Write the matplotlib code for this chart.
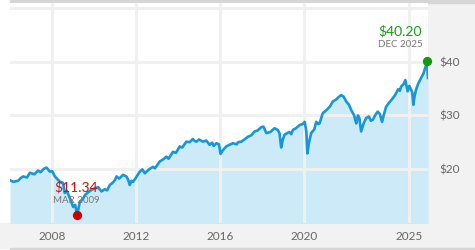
from matplotlib import pyplot as plt
from matplotlib.patches import Rectangle

# price (decimal year, $)
years = [2005.99, 2006.15, 2006.38, 2006.50, 2006.62, 2006.80, 2006.94, 2007.15,
         2007.33, 2007.45, 2007.60, 2007.73, 2007.89, 2008.00, 2008.13, 2008.25,
         2008.37, 2008.52, 2008.60, 2008.70, 2008.84, 2008.92, 2009.00, 2009.10,
         2009.19, 2009.32, 2009.45, 2009.56, 2009.70, 2009.88, 2010.05, 2010.19,
         2010.35, 2010.51, 2010.62, 2010.75, 2010.88, 2010.99, 2011.07, 2011.20,
         2011.38, 2011.54, 2011.62, 2011.70, 2011.78, 2011.86, 2012.00, 2012.18,
         2012.30, 2012.42, 2012.50, 2012.65, 2012.81, 2012.90, 2013.13, 2013.30,
         2013.45, 2013.55, 2013.76, 2013.90, 2014.08, 2014.20, 2014.40, 2014.55,
         2014.71, 2014.80, 2014.88, 2015.00, 2015.19, 2015.35, 2015.51, 2015.63,
         2015.70, 2015.83, 2015.95, 2016.03, 2016.12, 2016.30, 2016.45, 2016.62,
         2016.80, 2016.87, 2017.02, 2017.20, 2017.33, 2017.50, 2017.65, 2017.80,
         2017.97, 2018.08, 2018.21, 2018.40, 2018.60, 2018.75, 2018.84, 2018.92,
         2019.00, 2019.08, 2019.30, 2019.40, 2019.48, 2019.62, 2019.80, 2019.95,
         2020.04, 2020.12, 2020.17, 2020.25, 2020.35, 2020.50, 2020.59, 2020.68,
         2020.75, 2020.90, 2021.08, 2021.25, 2021.38, 2021.55, 2021.65, 2021.78,
         2021.90, 2022.02, 2022.15, 2022.26, 2022.40, 2022.45, 2022.50, 2022.58,
         2022.65, 2022.73, 2022.85, 2022.97, 2023.10, 2023.20, 2023.29, 2023.40,
         2023.52, 2023.62, 2023.73, 2023.82, 2023.92, 2024.05, 2024.24, 2024.35,
         2024.50, 2024.58, 2024.64, 2024.75, 2024.84, 2024.95, 2025.03, 2025.11,
         2025.17, 2025.22, 2025.28, 2025.35, 2025.45, 2025.59, 2025.70, 2025.83,
         2025.88, 2025.92]
prices = [17.9, 17.6, 17.8, 18.3, 18.6, 18.4, 19.3, 19.0,
          19.7, 19.4, 20.0, 20.25, 19.5, 19.6, 18.6, 18.1,
          17.6, 17.4, 15.5, 15.9, 14.6, 13.8, 12.9, 13.3,
          11.34, 13.9, 14.3, 15.1, 15.6, 16.1, 16.4, 16.6,
          15.8, 16.2, 16.0, 17.0, 17.4, 17.9, 18.6, 18.2,
          18.9, 18.6, 18.0, 17.0, 17.8, 17.6, 18.4, 19.5,
          19.9, 19.2, 19.5, 20.0, 20.4, 20.1, 21.4, 21.8,
          22.3, 21.9, 23.2, 23.0, 24.2, 24.0, 25.1, 25.0,
          25.6, 25.2, 25.1, 25.5, 25.1, 25.3, 24.5, 24.9,
          24.3, 24.8, 24.6, 22.8, 23.4, 24.2, 24.5, 24.8,
          24.6, 25.0, 25.1, 25.6, 26.0, 26.3, 27.0, 27.2,
          27.8, 27.9, 26.7, 26.9, 27.6, 27.3, 26.7, 24.0,
          25.5, 26.4, 26.9, 26.5, 27.3, 27.6, 28.2, 28.4,
          28.8, 27.0, 22.9, 25.0, 26.7, 27.4, 28.8, 28.4,
          28.5, 30.4, 31.0, 31.7, 32.6, 33.0, 33.4, 33.8,
          33.5, 32.6, 32.0, 31.0, 30.0, 29.2, 28.5, 30.0,
          29.5, 27.0, 28.5, 29.5, 29.8, 29.0, 29.2, 30.0,
          30.7, 30.3, 28.8, 30.2, 31.6, 32.3, 33.2, 33.8,
          34.9, 34.6, 35.4, 35.8, 36.6, 34.5, 35.5, 34.8,
          34.3, 32.0, 33.6, 34.8, 35.9, 37.0, 37.8, 39.4,
          40.2, 37.0]

tick_years = [2008, 2012, 2016, 2020, 2025]
tick_labels = ["2008", "2012", "2016", "2020", "2025"]
y_ticks = [20, 30, 40]
y_labels = ["$20", "$30", "$40"]

low = (2009.19, 11.34, "$11.34", "MAR 2009")
high = (2025.88, 40.20, "$40.20", "DEC 2025")

plt.rcParams["font.family"] = ["Lato", "DejaVu Sans"]

W, H = 475, 250
fig = plt.figure(figsize=(4.75, 2.5), dpi=100, facecolor="white")


def box(x0, y0, x1, y1, color):
    # pixel box, y measured from the top
    fig.patches.append(Rectangle((x0 / W, 1 - y1 / H), (x1 - x0) / W, (y1 - y0) / H,
                                 transform=fig.transFigure, color=color, zorder=0))


box(0, 223, W, 248, "#f2f2f2")
box(428, 3, W, 248, "#f2f2f2")
box(10, 0, W, 3, "#d6d6d6")
box(10, 248, W, 250, "#d6d6d6")

ax = fig.add_axes([10 / W, 27 / H, 418 / W, 220 / H])
ax.set_zorder(2)
ax.set_xlim(2005.99, 2025.92)
ax.set_ylim(9.9, 51.0)
for s in ax.spines.values():
    s.set_visible(False)

ax.fill_between(years, prices, 0, color="#cceaf7", lw=0, zorder=1)
for t in tick_years:
    ax.axvline(t, color="#f0f0f0", lw=2.2, zorder=2)
for v in [20, 30, 40, 50]:
    ax.axhline(v, color="#f0f0f0", lw=2.2, zorder=2)
ax.plot(years, prices, color="#1597d8", lw=1.9, zorder=3)

ax.set_xticks(tick_years, tick_labels)
ax.set_yticks(y_ticks, y_labels)
ax.yaxis.tick_right()
ax.tick_params(length=0, labelsize=8.5, colors="#666666")
ax.tick_params(axis="x", pad=6)
ax.tick_params(axis="y", pad=8)

ax.scatter([low[0]], [low[1]], s=32, color="#cc0000", zorder=5, clip_on=False)
ax.scatter([high[0]], [high[1]], s=32, color="#109a10", zorder=5, clip_on=False)
ax.annotate(low[2], (low[0], low[1]), xytext=(-23, 28), textcoords="offset pixels",
            color="#cc1111", fontsize=10, ha="left", va="center")
ax.annotate(low[3], (low[0], low[1]), xytext=(-24, 15), textcoords="offset pixels",
            color="#777777", fontsize=7, ha="left", va="center")
ax.annotate(high[2], (high[0], high[1]), xytext=(-5, 30), textcoords="offset pixels",
            color="#1a9a1a", fontsize=10, ha="right", va="center")
ax.annotate(high[3], (high[0], high[1]), xytext=(-5, 16), textcoords="offset pixels",
            color="#777777", fontsize=7, ha="right", va="center")

plt.savefig("out.png", dpi=100)
